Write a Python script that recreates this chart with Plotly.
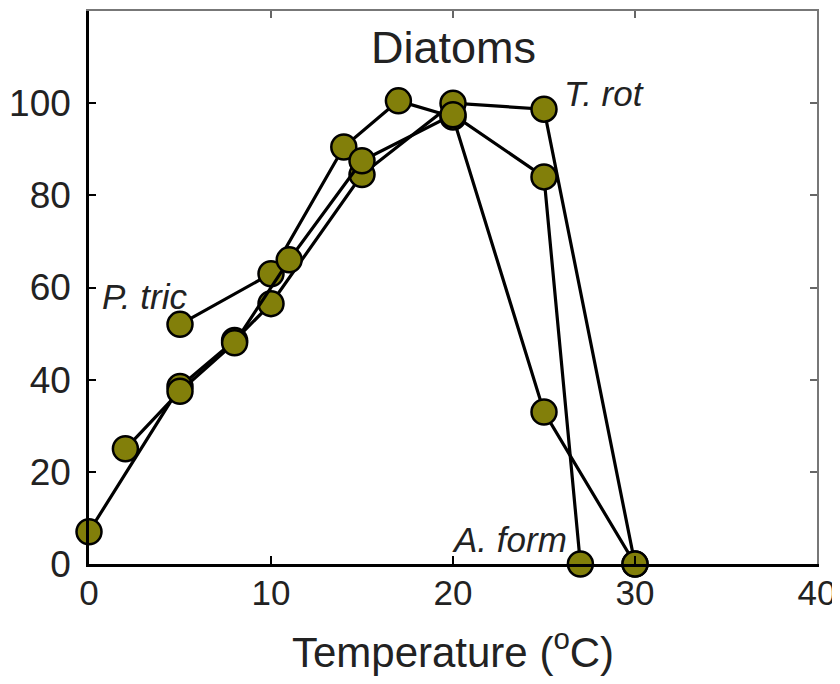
import plotly.graph_objects as go

# Data (temperature in °C, relative growth %)
ptric_x = [5, 10, 14, 17, 20, 25, 30]
ptric_y = [52, 63, 90.5, 100.5, 97, 33, 0]

trot_x = [0, 5, 8, 10, 15, 20, 25, 30]
trot_y = [7, 38.5, 48.5, 56.5, 84.5, 100, 98.7, 0]

aform_x = [2, 5, 8, 11, 15, 20, 25, 27]
aform_y = [25, 37.5, 48, 66, 87.5, 97.5, 84, 0]

x_ticks = [0, 10, 20, 30, 40]
y_ticks = [0, 20, 40, 60, 80, 100]

FONT = "Liberation Sans, Arial, sans-serif"
FILL = "#827f0a"

fig = go.Figure()
for name, xs, ys in [("P. tric", ptric_x, ptric_y),
                     ("T. rot", trot_x, trot_y),
                     ("A. form", aform_x, aform_y)]:
    fig.add_trace(go.Scatter(
        x=xs, y=ys, name=name, mode="lines+markers",
        line=dict(color="black", width=3.2),
        marker=dict(size=25, color=FILL, line=dict(color="black", width=2.5)),
        cliponaxis=False,
    ))

# invisible trace for mirrored (top/right) axes
fig.add_trace(go.Scatter(x=[0], y=[0], xaxis="x2", yaxis="y2",
                         mode="markers", marker=dict(opacity=0),
                         showlegend=False, hoverinfo="skip"))

annots = [
    dict(x=20, y=112, text="Diatoms", size=45, xanchor="center"),
    dict(x=26.0, y=102, text="<i>T. rot</i>", size=35, xanchor="left"),
    dict(x=0.6, y=58, text="<i>P. tric</i>", size=35, xanchor="left"),
    dict(x=26.4, y=5.3, text="<i>A. form</i>", size=35, xanchor="right"),
]
for a in annots:
    fig.add_annotation(xref="x", yref="y", showarrow=False,
                       x=a["x"], y=a["y"], text=a["text"], xanchor=a["xanchor"],
                       font=dict(family=FONT, color="#222", size=a["size"]))

fig.update_layout(
    width=832, height=668,
    margin=dict(l=81, r=23, t=3, b=112),
    paper_bgcolor="white", plot_bgcolor="white",
    showlegend=False,
    font=dict(family=FONT, color="#222"),
    xaxis=dict(range=[0, 40], tickvals=x_ticks, ticks="inside", ticklen=8,
               tickwidth=2, tickcolor="black", automargin=False,
               showline=True, linecolor="black", linewidth=2.5,
               showgrid=False, zeroline=False, ticklabeloverflow="allow",
               tickfont=dict(size=35), ticklabelstandoff=-4,
               title=dict(text="Temperature (<sup>o</sup>C)", font=dict(size=42),
                          standoff=28)),
    yaxis=dict(range=[0, 120], tickvals=y_ticks, ticks="inside", ticklen=7,
               tickwidth=2, tickcolor="black", automargin=False,
               showline=True, linecolor="black", linewidth=2.5,
               showgrid=False, zeroline=False,
               tickfont=dict(size=37), ticklabelstandoff=8),
    xaxis2=dict(range=[0, 40], overlaying="x", side="top", tickvals=x_ticks,
                ticks="inside", ticklen=7, tickwidth=2, tickcolor="#666",
                showticklabels=False, showline=True, linecolor="#777",
                linewidth=2, showgrid=False, zeroline=False, automargin=False),
    yaxis2=dict(range=[0, 120], overlaying="y", side="right", tickvals=y_ticks,
                ticks="inside", ticklen=7, tickwidth=2, tickcolor="#666",
                showticklabels=False, showline=True, linecolor="#777",
                linewidth=2, showgrid=False, zeroline=False, automargin=False),
)

fig.write_html("out.html")
